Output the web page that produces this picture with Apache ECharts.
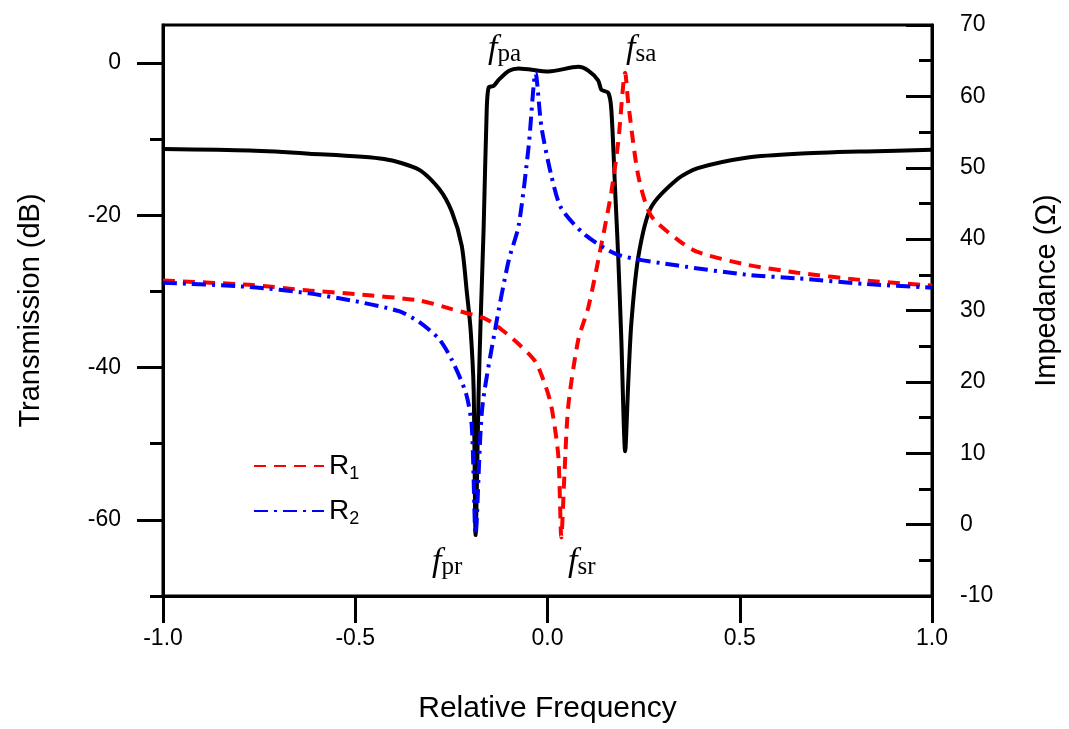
<!DOCTYPE html>
<html>
<head>
<meta charset="utf-8">
<script src="https://cdn.jsdelivr.net/npm/echarts@6/dist/echarts.min.js"></script>
<style>
  html, body { margin: 0; padding: 0; background: #fff; overflow: hidden; }
  #chart { width: 1069px; height: 729px; }
</style>
</head>
<body>
<div id="chart"></div>
<script>
// transmission (black, left axis)
var transFreq = [-1.0, -0.775, -0.62, -0.425, -0.334, -0.282, -0.249, -0.223, -0.21, -0.2, -0.192, -0.187,
    -0.179, -0.174, -0.166, -0.158, -0.153, -0.14, -0.127, -0.1, -0.075, 0.003, 0.08, 0.106, 0.132, 0.14,
    0.158, 0.166, 0.176, 0.184, 0.192, 0.202, 0.21, 0.218, 0.236, 0.269, 0.339, 0.391, 0.521, 0.65, 0.83, 1.0];
var transDb = [-11.3, -11.5, -11.9, -12.6, -14.0, -16.5, -19.5, -24.0, -30.0, -35.0, -43.0, -62.0,
    -43.0, -34.0, -21.5, -6.0, -3.2, -3.0, -2.2, -1.0, -0.7, -1.1, -0.5, -1.0, -2.3, -3.5,
    -3.9, -6.1, -16.8, -25.5, -36.3, -51.0, -42.0, -34.2, -25.5, -19.0, -15.2, -13.8, -12.4, -11.9, -11.6, -11.4];

// R1 impedance (red dashed, right axis)
var r1Freq = [-1.0, -0.775, -0.62, -0.5, -0.334, -0.249, -0.16, -0.119, -0.075, -0.031, -0.005, 0.01, 0.028,
    0.036, 0.044, 0.054, 0.08, 0.106, 0.14, 0.166, 0.184, 0.202, 0.21, 0.236, 0.269, 0.339, 0.39, 0.52, 0.65, 0.83, 1.0];
var r1Ohm = [34.2, 33.6, 32.8, 32.3, 31.4, 30.2, 28.8, 27.3, 25.3, 22.8, 19.4, 16.6, 9.7,
    -1.8, 7.0, 16.6, 25.9, 30.4, 39.2, 46.6, 53.6, 63.3, 59.1, 48.9, 43.3, 39.9, 38.2, 36.4, 35.3, 34.2, 33.5];

// R2 impedance (blue dash-dot, right axis)
var r2Freq = [-1.0, -0.775, -0.62, -0.5, -0.386, -0.334, -0.282, -0.249, -0.212, -0.197, -0.187, -0.17, -0.135, -0.101,
    -0.075, -0.049, -0.031, -0.016, 0.01, 0.036, 0.098, 0.184, 0.339, 0.52, 0.65, 0.83, 1.0];
var r2Ohm = [33.9, 33.3, 32.4, 31.3, 29.9, 28.4, 26.0, 23.1, 18.4, 13.8, -1.4, 16.2, 27.7, 37.0,
    41.9, 53.0, 63.3, 55.8, 48.9, 44.3, 40.6, 37.8, 36.3, 35.0, 34.5, 33.7, 33.2];

var xTicks = [-1.0, -0.5, 0.0, 0.5, 1.0];
var dbLabels = [-60, -40, -20, 0];
var dbMinor = [-70, -50, -30, -10];

function pairs(xs, ys) {
    return xs.map(function (x, i) { return [x, ys[i]]; });
}

var myChart = echarts.init(document.getElementById('chart'));
var font = 'Liberation Sans, Arial, sans-serif';
var serif = 'Liberation Serif, Times New Roman, serif';

function fLabel(sub) {
    return {
        text: '{f|f}{s|' + sub + '}',
        rich: {
            f: { fontFamily: serif, fontStyle: 'italic', fontSize: 34, fill: '#000' },
            s: { fontFamily: serif, fontSize: 25, fill: '#000', padding: [10, 0, 0, 0] }
        }
    };
}

var option = {
    animation: false,
    backgroundColor: '#fff',
    grid: {
        left: 163, right: 134, top: 25, bottom: 126,
        show: true, borderColor: '#000', borderWidth: 3
    },
    legend: {
        left: 248, top: 447, orient: 'vertical', itemGap: 14,
        itemWidth: 70, itemHeight: 14,
        data: ['R1', 'R2'],
        itemStyle: { opacity: 0 },
        formatter: function (name) { return 'R{sub|' + name.slice(1) + '}'; },
        textStyle: {
            fontFamily: font, fontSize: 28, color: '#000',
            rich: { sub: { fontFamily: font, fontSize: 18, color: '#000', padding: [16, 0, 0, 0] } }
        }
    },
    xAxis: {
        type: 'value', min: -1, max: 1, interval: 0.5,
        name: 'Relative Frequency', nameLocation: 'middle', nameGap: 98,
        nameTextStyle: { fontFamily: font, fontSize: 30, color: '#000' },
        axisLine: { onZero: false, lineStyle: { color: '#000', width: 3 } },
        axisTick: { length: 27, lineStyle: { color: '#000', width: 3 } },
        axisLabel: {
            margin: 31, fontFamily: font, fontSize: 23, color: '#000',
            customValues: xTicks,
            formatter: function (v) { return v.toFixed(1); }
        },
        splitLine: { show: false }
    },
    yAxis: [
        {
            type: 'value', min: -70, max: 5, position: 'left',
            name: 'Transmission (dB)', nameLocation: 'middle', nameGap: 118, nameRotate: 90,
            nameTextStyle: { fontFamily: font, fontSize: 29, color: '#000' },
            axisLine: { show: true, onZero: false, lineStyle: { color: '#000', width: 3 } },
            axisTick: { show: true, length: 26, customValues: dbLabels, lineStyle: { color: '#000', width: 3 } },
            axisLabel: { margin: 42, fontFamily: font, fontSize: 23, color: '#000', customValues: dbLabels },
            splitLine: { show: false }
        },
        {
            type: 'value', min: -10, max: 70, interval: 10, position: 'right',
            name: 'Impedance (\u03A9)', nameLocation: 'middle', nameGap: 100, nameRotate: 90,
            nameTextStyle: { fontFamily: font, fontSize: 29, color: '#000', padding: [0, 0, 0, 40] },
            axisLine: { show: true, onZero: false, lineStyle: { color: '#000', width: 3 } },
            axisTick: { show: true, inside: true, length: 26, lineStyle: { color: '#000', width: 3 } },
            minorTick: { show: true, splitNumber: 2, length: 13, lineStyle: { color: '#000', width: 3 } },
            axisLabel: { margin: 28, fontFamily: font, fontSize: 23, color: '#000' },
            splitLine: { show: false },
            minorSplitLine: { show: false }
        },
        {
            type: 'value', min: -70, max: 5, position: 'left',
            axisLine: { show: false, onZero: false },
            axisTick: { show: true, length: 13, customValues: dbMinor, lineStyle: { color: '#000', width: 3 } },
            axisLabel: { show: false },
            splitLine: { show: false }
        }
    ],
    series: [
        {
            name: 'T', type: 'line', yAxisIndex: 0, symbol: 'none', smooth: 0.25, z: 3,
            lineStyle: { color: '#000', width: 4 },
            data: pairs(transFreq, transDb)
        },
        {
            name: 'R1', type: 'line', yAxisIndex: 1, symbol: 'none', smooth: 0.25, z: 4,
            itemStyle: { color: '#ff0000' },
            lineStyle: { color: '#ff0000', width: 4, type: [12, 8] },
            data: pairs(r1Freq, r1Ohm)
        },
        {
            name: 'R2', type: 'line', yAxisIndex: 1, symbol: 'none', smooth: 0.25, z: 5,
            itemStyle: { color: '#0000ff' },
            lineStyle: { color: '#0000ff', width: 4, type: [14, 6, 3, 6] },
            data: pairs(r2Freq, r2Ohm)
        }
    ],
    graphic: [
        { type: 'text', left: 488, top: 32, style: fLabel('pa') },
        { type: 'text', left: 626, top: 32, style: fLabel('sa') },
        { type: 'text', left: 432, top: 545, style: fLabel('pr') },
        { type: 'text', left: 568, top: 545, style: fLabel('sr') }
    ]
};

myChart.setOption(option);
window.addEventListener("resize", function () {
    myChart.resize();
});
</script>
</body>
</html>
